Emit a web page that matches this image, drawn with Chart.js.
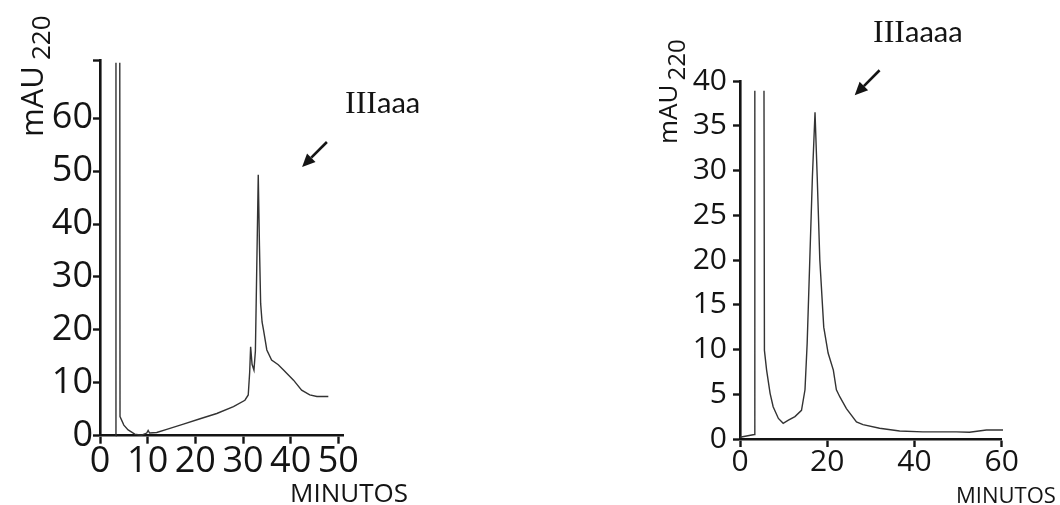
<!DOCTYPE html>
<html>
<head>
<meta charset="utf-8">
<script src="https://cdn.jsdelivr.net/npm/chart.js@4.4.1/dist/chart.umd.min.js"></script>
<style>
  html, body { margin: 0; padding: 0; background: #ffffff; }
  #wrap { position: relative; width: 1060px; height: 505px; overflow: hidden; }
  #wrap canvas { position: absolute; left: 0; top: 0; }
</style>
</head>
<body>
<div id="wrap">
  <canvas id="chartA" width="1060" height="505"></canvas>
  <canvas id="chartB" width="1060" height="505"></canvas>
</div>
<script>
// ---- Chromatogram IIIaaa (left panel) ----
const minutesA = [3.3, 3.35, 3.8, 4.15, 4.2, 5.0, 5.9, 7.3, 8.7, 9.8, 10.1, 10.4, 11.9, 14.0, 17.5, 21.0, 24.5, 28.0, 30.4, 31.1, 31.4, 31.6, 31.9, 32.3, 32.6, 33.0, 33.2, 33.45, 33.7, 34.0, 34.3, 35.0, 36.0, 37.4, 38.5, 40.6, 42.3, 44.0, 45.5, 47.9];
const mauA     = [0, 70.5, null, 70.5, 3.6, 2.0, 1.1, 0.3, 0.1, 0.5, 1.0, 0.5, 0.6, 1.2, 2.2, 3.2, 4.2, 5.5, 6.7, 7.7, 12, 16.8, 13.5, 12.4, 16, 38, 49.3, 36, 25, 21.5, 20, 16.2, 14.3, 13.4, 12.4, 10.5, 8.6, 7.7, 7.4, 7.4];
const xTicksA = [0, 10, 20, 30, 40, 50];
const yTicksA = [0, 10, 20, 30, 40, 50, 60, 71];
const yLabelsA = ['0', '10', '20', '30', '40', '50', '60', ''];

// ---- Chromatogram IIIaaaa (right panel) ----
const minutesB = [0, 3.3, 3.4, 4.4, 5.5, 5.6, 6.1, 6.9, 7.6, 8.8, 9.9, 11.1, 12.6, 14.1, 14.9, 15.4, 16.0, 16.6, 17.2, 17.7, 18.3, 19.2, 20.2, 21.4, 22.1, 22.9, 24.4, 26.7, 28.2, 32.0, 36.6, 41.9, 49.6, 52.6, 56.5, 60.3];
const mauB     = [0.2, 0.5, 38.9, null, 38.9, 9.9, 7.7, 5.1, 3.6, 2.3, 1.75, 2.1, 2.5, 3.2, 5.5, 10.7, 20, 29.3, 36.5, 29.3, 20, 12.5, 9.6, 7.7, 5.5, 4.7, 3.4, 1.9, 1.6, 1.2, 0.9, 0.8, 0.8, 0.75, 1.0, 1.0];
const xTicksB = [0, 20, 40, 60];
const yTicksB = [0, 5, 10, 15, 20, 25, 30, 35, 40];

const INK = '#141414';
const TRACE = '#333333';
const TICK_FONT = 'Open Sans';

function points(xs, ys) {
  return xs.map((x, i) => ({ x: x, y: ys[i] }));
}

// Axis titles, peak labels and arrows drawn on top of each panel
const decorations = {
  id: 'decorations',
  afterDraw(chart, args, o) {
    const ctx = chart.ctx;
    ctx.save();
    ctx.fillStyle = INK;
    ctx.strokeStyle = INK;

    // rotated y-axis title with subscript
    const t = o.yTitle;
    ctx.save();
    ctx.translate(t.x, t.y);
    ctx.rotate(-Math.PI / 2);
    ctx.textBaseline = 'alphabetic';
    ctx.textAlign = 'left';
    ctx.font = t.size + 'px "' + TICK_FONT + '"';
    ctx.fillText(t.main, 0, 0);
    const w = ctx.measureText(t.main).width;
    ctx.font = t.subSize + 'px "' + TICK_FONT + '"';
    ctx.fillText(t.sub, w + t.gap, t.subDrop);
    ctx.restore();

    // x-axis unit label
    const m = o.xTitle;
    ctx.font = m.size + 'px "' + TICK_FONT + '"';
    ctx.textAlign = 'left';
    ctx.textBaseline = 'alphabetic';
    ctx.fillText(m.text, m.x, m.y);

    // peak label: roman numeral in serif, letters in sans
    const p = o.peak;
    ctx.font = p.serifSize + 'px "Liberation Serif"';
    ctx.fillText(p.roman, p.x, p.y);
    const rw = ctx.measureText(p.roman).width;
    ctx.font = p.sansSize + 'px "Lato"';
    ctx.fillText(p.letters, p.x + rw, p.y);

    // arrow pointing at the peak (data coordinates)
    const a = o.arrow;
    const xs = chart.scales.x, ys = chart.scales.y;
    const x0 = xs.getPixelForValue(a.from[0]), y0 = ys.getPixelForValue(a.from[1]);
    const x1 = xs.getPixelForValue(a.to[0]), y1 = ys.getPixelForValue(a.to[1]);
    const ang = Math.atan2(y1 - y0, x1 - x0);
    const head = 13, half = 6;
    const bx = x1 - head * Math.cos(ang), by = y1 - head * Math.sin(ang);
    ctx.lineWidth = 2.6;
    ctx.beginPath();
    ctx.moveTo(x0, y0);
    ctx.lineTo(bx, by);
    ctx.stroke();
    ctx.beginPath();
    ctx.moveTo(x1, y1);
    ctx.lineTo(bx + half * Math.sin(ang), by - half * Math.cos(ang));
    ctx.lineTo(bx - half * Math.sin(ang), by + half * Math.cos(ang));
    ctx.closePath();
    ctx.fill();
    ctx.restore();
  }
};

function axisStyle(fontSize, tickLen, pad) {
  return {
    grid: { display: true, drawOnChartArea: false, drawTicks: true, tickLength: tickLen, tickWidth: 2.4, tickColor: INK },
    border: { display: true, width: 2.6, color: INK },
    ticks: { font: { family: TICK_FONT, size: fontSize }, color: INK, padding: pad, autoSkip: false, maxRotation: 0, minRotation: 0 }
  };
}

function buildChart(id, cfg) {
  const xs = axisStyle(cfg.fontSize, 8, cfg.xPad);
  const ysA = axisStyle(cfg.fontSize, 7, cfg.yPad);
  return new Chart(document.getElementById(id), {
    type: 'line',
    data: {
      datasets: [{
        data: points(cfg.minutes, cfg.values),
        borderColor: TRACE,
        borderWidth: 1.4,
        pointRadius: 0,
        tension: 0,
        spanGaps: false,
        clip: false
      }]
    },
    options: {
      responsive: false,
      animation: false,
      events: [],
      layout: { padding: cfg.padding },
      plugins: {
        legend: { display: false },
        tooltip: { enabled: false },
        decorations: cfg.deco
      },
      scales: {
        x: Object.assign({
          type: 'linear', min: 0, max: cfg.xMax,
          afterBuildTicks: s => { s.ticks = cfg.xTicks.map(v => ({ value: v })); },
          afterFit: s => { s.height = cfg.xHeight; }
        }, xs, { ticks: Object.assign({}, xs.ticks, { callback: v => String(v) }) }),
        y: Object.assign({
          type: 'linear', min: 0, max: cfg.yMax,
          afterBuildTicks: s => { s.ticks = cfg.yTicks.map(v => ({ value: v })); },
          afterFit: s => { s.width = 100; }
        }, ysA, { ticks: Object.assign({}, ysA.ticks, { callback: (v, i) => cfg.yLabels[i] }) })
      }
    },
    plugins: [decorations]
  });
}

buildChart('chartA', {
  minutes: minutesA, values: mauA,
  xMax: 51, yMax: 71,
  xTicks: xTicksA, yTicks: yTicksA, yLabels: yLabelsA,
  fontSize: 36, xPad: -4, yPad: 0,
  xHeight: 69.3,
  padding: { left: 0, right: 716.9, top: 60, bottom: 0 },
  deco: {
    yTitle: { x: 43, y: 137, main: 'mAU', sub: '220', size: 31, subSize: 26, gap: 6, subDrop: 7 },
    xTitle: { text: 'MINUTOS', x: 290, y: 502, size: 26 },
    peak: { roman: 'III', letters: 'aaa', x: 345, y: 113, serifSize: 32, sansSize: 29 },
    arrow: { from: [47.6, 55.5], to: [42.4, 50.8] }
  }
});

buildChart('chartB', {
  minutes: minutesB, values: mauB,
  xMax: 60, yMax: 40,
  xTicks: xTicksB, yTicks: yTicksB, yLabels: yTicksB.map(String),
  fontSize: 30, xPad: -3, yPad: 6,
  xHeight: 66,
  padding: { left: 640, right: 58.3, top: 81, bottom: 0 },
  deco: {
    yTitle: { x: 677, y: 144, main: 'mAU', sub: '220', size: 26, subSize: 24, gap: 4, subDrop: 8 },
    xTitle: { text: 'MINUTOS', x: 956, y: 503, size: 22 },
    peak: { roman: 'III', letters: 'aaaa', x: 873, y: 42, serifSize: 32, sansSize: 29 },
    arrow: { from: [32.0, 41.2], to: [26.3, 38.4] }
  }
});
</script>
</body>
</html>
